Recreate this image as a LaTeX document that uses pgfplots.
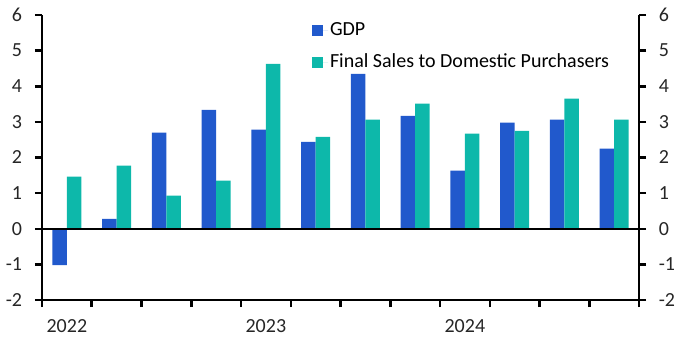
\documentclass[border=0pt]{standalone}
\usepackage{pgfplots}
\pgfplotsset{compat=1.18}
\usepackage{fontspec}
\setmainfont{Carlito}
\definecolor{gdpblue}{RGB}{33,89,204}
\definecolor{fsteal}{RGB}{13,184,170}
\pgfplotstableread{
x gdp fs
0 -1.02 1.46
1 0.28 1.77
2 2.70 0.93
3 3.34 1.35
4 2.78 4.63
5 2.44 2.58
6 4.35 3.06
7 3.17 3.51
8 1.63 2.67
9 2.98 2.75
10 3.06 3.65
11 2.25 3.06
}\datatable
\begin{document}
\fontsize{20bp}{24bp}\selectfont
\begin{tikzpicture}
\useasboundingbox (-42bp,-53bp) rectangle (640bp,300bp);
\pgfplotsset{
  common/.style={
    at={(0,0)}, anchor=south west, scale only axis,
    width=597bp, height=285bp,
    xmin=-0.5, xmax=11.5, ymin=-2, ymax=6,
    ytick={-2,-1,0,1,2,3,4,5,6},
    tick align=outside,
    major tick length=7bp,
    tick style={line width=2.5bp, black},
    axis line style={line width=2.5bp, -},
    /pgf/number format/assume math mode=true,
    tick label style={font=\fontsize{20bp}{24bp}\selectfont, text=black!85},
  }
}
\begin{axis}[
  common,
  ybar=0pt, bar width=0.29,
  axis x line*=bottom, axis y line*=left,
  xtick={-0.5,0.5,...,11.5},
  xticklabels={},
  extra x ticks={0,4,8},
  extra x tick labels={2022,2023,2024},
  extra x tick style={major tick length=0pt, tick style={draw=none}},
  yticklabel style={xshift=-6bp},
  xticklabel style={yshift=-13bp},
  legend image code/.code={\fill[#1] (0bp,-5.5bp) rectangle (11bp,5.5bp); \path (0bp,0bp) -- (16bp,0bp);},
  legend style={draw=none, fill=none, at={(0.447,0.99)}, anchor=north west,
    font=\fontsize{20bp}{24bp}\selectfont, row sep=12bp,
    /tikz/every even column/.append style={column sep=0bp}},
  legend cell align=left,
]
\addplot[fill=gdpblue, draw=none] table[x=x, y=gdp] {\datatable};
\addlegendentry{GDP}
\addplot[fill=fsteal, draw=none] table[x=x, y=fs] {\datatable};
\addlegendentry{Final Sales to Domestic Purchasers}
\draw[line width=2.5bp] (axis cs:-0.5,0) -- (axis cs:11.5,0);
\end{axis}
\begin{axis}[
  common,
  axis x line=none, axis y line*=right,
  yticklabel style={xshift=6bp},
]
\end{axis}
\end{tikzpicture}
\end{document}
